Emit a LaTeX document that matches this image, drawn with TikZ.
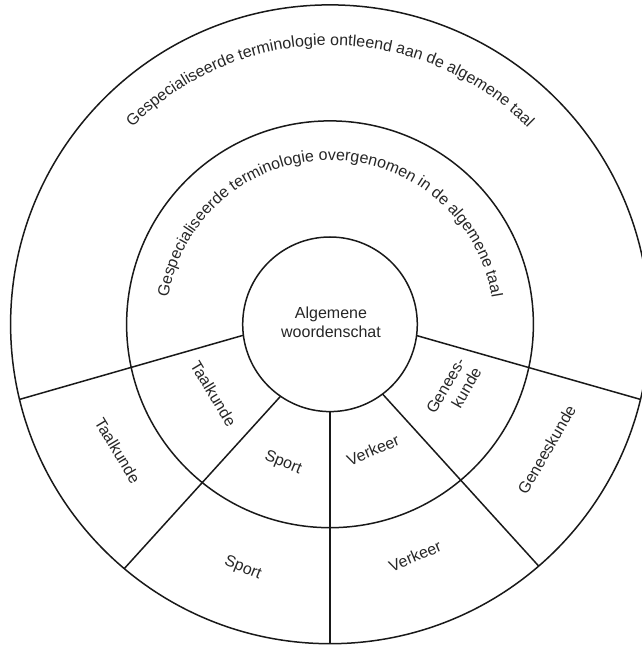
\documentclass[tikz,border=0pt]{standalone}
\usepackage{fontspec}
\setmainfont{Liberation Sans}
\usetikzlibrary{decorations.text}
\newcommand\lblfont{\fontsize{16pt}{19pt}\selectfont}
\begin{document}
\begin{tikzpicture}[x=1pt,y=1pt,
  ring/.style={line width=1.5pt, draw=black!90},
  sep/.style={line width=1.5pt, draw=black!90},
  lbl/.style={font=\lblfont, text=black!85, inner sep=0pt, align=center},
  arctext/.style={decorate, decoration={text along path, text align=center, text color=black!85}}]
\useasboundingbox (-330,-322.7) rectangle (311,324.3);
\coordinate (c) at (0,0);
% rings
\draw[ring] (c) circle[radius=319.4];
\draw[ring] (c) circle[radius=203.4];
\draw[ring] (c) circle[radius=87.3];
% separators
\coordinate (ulin) at (187.2:87.3);  \coordinate (ulout) at (193.6:319.4);
\coordinate (urin) at (-7.4:87.3);   \coordinate (urout) at (-13.6:319.4);
\coordinate (llin) at (235.5:87.3);  \coordinate (llout) at (229.9:319.4);
\coordinate (lrin) at (-53:87.3);    \coordinate (lrout) at (-49.2:319.4);
\coordinate (vin) at (270:87.3);     \coordinate (vout) at (270:319.4);
\draw[sep] (ulin) -- (ulout);
\draw[sep] (urin) -- (urout);
\draw[sep] (llin) -- (llout);
\draw[sep] (lrin) -- (lrout);
\draw[sep] (vin) -- (vout);
% curved texts
\path[arctext, decoration={text={|\lblfont|Gespecialiseerde terminologie ontleend aan de algemene taal}}]
  (180:279) arc[start angle=180, end angle=0, radius=279];
\path[arctext, decoration={text={|\lblfont|Gespecialiseerde terminologie overgenomen in de algemene taal}}]
  (180:164) arc[start angle=180, end angle=0, radius=164];
% labels
\node[lbl] (alg) at (1,2) {Algemene\\woordenschat};
\node[lbl, rotate=-59] (taalin) at (-116.5,-69.2) {Taalkunde};
\node[lbl, rotate=-59] (taalout) at (-212.3,-126.2) {Taalkunde};
\node[lbl, rotate=-22] (sportin) at (-47,-138.7) {Sport};
\node[lbl, rotate=-22] (sportout) at (-87.2,-244) {Sport};
\node[lbl, rotate=23] (verkin) at (43,-125.7) {Verkeer};
\node[lbl, rotate=23] (verkout) at (85,-231.7) {Verkeer};
\node[lbl, rotate=60, align=right] (genin) at (123.8,-66.1) {Genees-\\kunde};
\node[lbl, rotate=60] (genout) at (216.6,-125.4) {Geneeskunde};
\end{tikzpicture}
\end{document}
